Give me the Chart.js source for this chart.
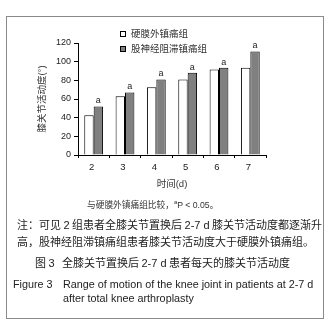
<!DOCTYPE html>
<html lang="zh">
<head>
    <meta charset="utf-8">
    <title>全膝关节置换后 2-7 d 患者每天的膝关节活动度</title>
    <script src="https://cdn.jsdelivr.net/npm/chart.js"></script>
    <style>
        body { margin: 0; width: 328px; height: 329px; background: #fff; position: relative; overflow: hidden;
               font-family: "Noto Sans CJK SC", "Liberation Sans", sans-serif; color: #222; }
        .frame { position: absolute; left: 6px; top: 16px; width: 318px; height: 303px; box-sizing: border-box; border: 1px solid #8a8a8a; }
        #chart { position: absolute; left: 0; top: 0; }
        .txt { position: absolute; white-space: nowrap; line-height: 1; }
        .legend { position: absolute; left: 120px; font-size: 9.5px; color: #333; line-height: 1; }
        .legend span.box { display: inline-block; width: 6px; height: 6px; border: 1px solid #000; box-sizing: border-box; margin-right: 5px; vertical-align: middle; }
        .latin { font-family: "Liberation Sans", Arial, sans-serif; }
    </style>
</head>
<body>
    <div class="frame"></div>
    <canvas id="chart" width="328" height="200"></canvas>

    <div class="legend" id="leg1" style="top:29px;"><span class="box" style="background:#fff"></span><span id="legText1"></span></div>
    <div class="legend" id="leg2" style="top:44px;"><span class="box" style="background:#808080"></span><span id="legText2"></span></div>

    <div class="txt" style="left:87px; top:199px; font-size:8.7px; color:#333;">与硬膜外镇痛组比较，<span class="latin"><sup style="font-size:6px">a</sup>P &lt; 0.05</span>。</div>
    <div class="txt" style="left:17px; top:219px; font-size:11px;">注：可见 <span class="latin">2</span> 组患者全膝关节置换后 <span class="latin">2-7 d</span> 膝关节活动度都逐渐升</div>
    <div class="txt" style="left:17px; top:236px; font-size:11px;">高，股神经阻滞镇痛组患者膝关节活动度大于硬膜外镇痛组。</div>
    <div class="txt" style="left:35px; top:257px; font-size:11px;">图 <span class="latin">3</span>&nbsp;&nbsp;&nbsp;全膝关节置换后 <span class="latin">2-7 d</span> 患者每天的膝关节活动度</div>
    <div class="txt latin" style="left:13px; top:279px; font-size:10.8px;">Figure 3</div>
    <div class="txt latin" style="left:63px; top:279px; font-size:10.8px;">Range of motion of the knee joint in patients at 2-7 d</div>
    <div class="txt latin" style="left:63px; top:293px; font-size:10.8px;">after total knee arthroplasty</div>

    <script>
        // values (degrees)
        const days = ["2", "3", "4", "5", "6", "7"];
        const seriesNames = ["硬膜外镇痛组", "股神经阻滞镇痛组"];
        const epiduralValues = [42.5, 63, 72.5, 81, 91.5, 93.5];
        const femoralValues = [52, 67, 81, 88, 93.5, 111];
        const sigMarks = ["a", "a", "a", "a", "a", "a"];
        const yTicks = [0, 20, 40, 60, 80, 100, 120];

        document.getElementById("legText1").textContent = seriesNames[0];
        document.getElementById("legText2").textContent = seriesNames[1];

        const chartFont = "'Liberation Sans', 'Noto Sans CJK SC', sans-serif";

        // little "a" above each femoral-block bar
        const sigPlugin = {
            id: "sigMarks",
            afterDatasetsDraw(chart) {
                const ctx = chart.ctx;
                const meta = chart.getDatasetMeta(1);
                ctx.save();
                ctx.font = "9px " + chartFont;
                ctx.fillStyle = "#222";
                ctx.textAlign = "center";
                ctx.textBaseline = "bottom";
                meta.data.forEach((bar, i) => {
                    ctx.fillText(sigMarks[i], bar.x, bar.y - 1);
                });
                ctx.restore();
            }
        };

        new Chart(document.getElementById("chart"), {
            type: "bar",
            data: {
                labels: days,
                datasets: [
                    { label: seriesNames[0], data: epiduralValues, backgroundColor: "#ffffff", borderColor: "#000", borderWidth: 1 },
                    { label: seriesNames[1], data: femoralValues, backgroundColor: "#808080", borderColor: "#000", borderWidth: 1 }
                ]
            },
            options: {
                responsive: false,
                animation: false,
                datasets: { bar: { categoryPercentage: 0.6, barPercentage: 1.0 } },
                layout: { padding: { left: 30, top: 43, right: 62, bottom: 0 } },
                plugins: { legend: { display: false }, tooltip: { enabled: false } },
                scales: {
                    x: {
                        afterFit: (s) => { s.height = 45; },
                        grid: { drawOnChartArea: false, drawTicks: true, tickLength: 3, color: "#000", offset: true },
                        border: { color: "#000", width: 1 },
                        ticks: { color: "#222", padding: 4, labelOffset: -2, font: { size: 9.5, family: chartFont } },
                        title: { display: true, text: "时间(d)", color: "#333", padding: { top: 0, bottom: 10 },
                                 font: { size: 9.5, family: chartFont } }
                    },
                    y: {
                        min: 0, max: 120,
                        afterFit: (s) => { s.width = 48; },
                        afterBuildTicks: (s) => { s.ticks = yTicks.map(v => ({ value: v })); },
                        grid: { drawOnChartArea: false, drawTicks: true, tickLength: 4, color: "#000" },
                        border: { color: "#000", width: 1 },
                        ticks: { color: "#222", padding: 3, font: { size: 9, family: chartFont } },
                        title: { display: true, text: "膝关节活动度(°)", color: "#333", padding: { top: 7, bottom: 0 },
                                 font: { size: 9.5, family: chartFont } }
                    }
                }
            },
            plugins: [sigPlugin]
        });
    </script>
</body>
</html>
